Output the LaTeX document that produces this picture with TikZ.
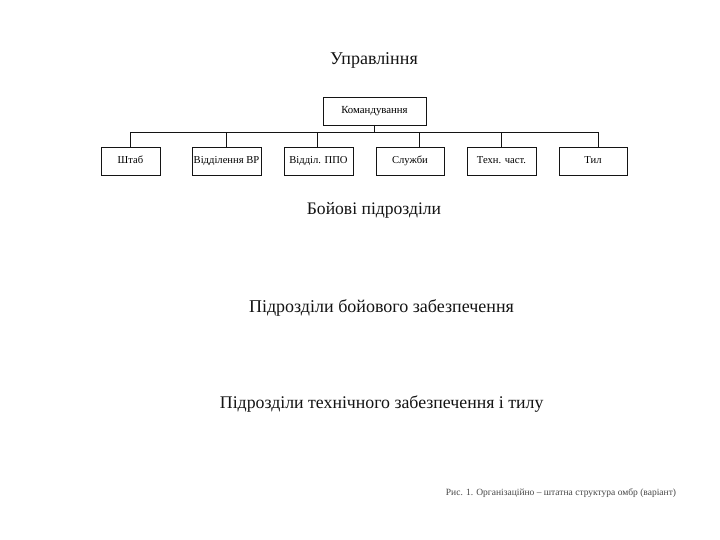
\documentclass[tikz,border=0pt]{standalone}
\usepackage{fontspec}
\setmainfont{Liberation Serif}
\definecolor{figK}{RGB}{20,20,20}
\definecolor{figC}{RGB}{70,70,70}

\begin{document}
\begin{tikzpicture}[x=1pt,y=-1pt,line width=0.9pt,
  unitbox/.style={draw=figK,minimum height=28pt,inner sep=0pt,outer sep=0pt,text height=7.5pt,text depth=2.5pt,font=\fontsize{10.6}{12}\selectfont},
  head/.style={figK,font=\fontsize{18}{21}\selectfont}]
\useasboundingbox[fill=white] (0,0) rectangle (720,540);
\node[head] (upr) at (374,60) {Управління};
\node[unitbox,minimum width=103pt,font=\fontsize{10.8}{12}\selectfont] (kom) at (374.5,111) {Командування};
\node[unitbox,minimum width=59pt] (shtab) at (130.5,161.5) {Штаб};
\node[unitbox,minimum width=69pt] (vr) at (226.5,161.5) {Відділення ВР};
\node[unitbox,minimum width=69pt] (ppo) at (318.5,161.5) {Відділ. ППО};
\node[unitbox,minimum width=68pt] (sluzh) at (410,161.5) {Служби};
\node[unitbox,minimum width=69pt] (tekh) at (501.5,161.5) {Техн. част.};
\node[unitbox,minimum width=68pt] (til) at (593,161.5) {Тил};
\coordinate (bus) at (374.5,132.5);
\draw[figK] (kom.south) -- (bus);
\foreach \n/\d in {shtab/0,vr/0,ppo/-1.5,sluzh/9,tekh/0,til/5}
  \draw[figK] (bus) -| ([xshift=\d pt]\n.north);
\node[head,font=\fontsize{17.6}{20}\selectfont] (boy) at (374,210) {Бойові підрозділи};
\node[head] (zab) at (381.5,308) {Підрозділи бойового забезпечення};
\node[head,font=\fontsize{17.8}{20}\selectfont] (tekhz) at (381.7,404) {Підрозділи технічного забезпечення і тилу};
\node[figC,font=\fontsize{9.5}{11}\selectfont] (cap) at (561,493) {Рис. 1. Організаційно – штатна структура омбр (варіант)};
\end{tikzpicture}
\end{document}
